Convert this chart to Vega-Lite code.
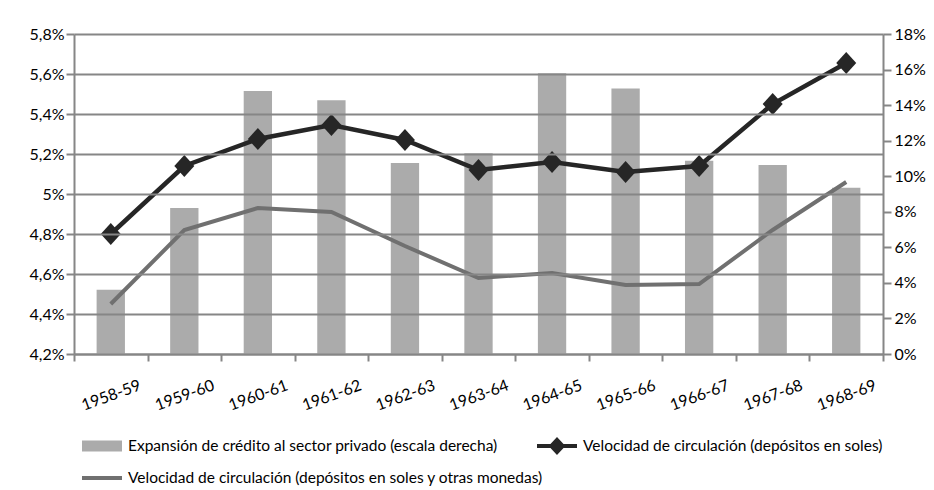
{
  "$schema": "https://vega.github.io/schema/vega-lite/v6.json",
  "width": 809,
  "height": 320,
  "padding": {"left": 28, "top": 26, "right": 5, "bottom": 5},
  "background": "white",
  "config": {
    "font": "Lato",
    "view": {"stroke": null},
    "axis": {
      "labelFont": "Lato",
      "labelFontSize": 16,
      "labelColor": "#000000",
      "domainColor": "#868686",
      "domainWidth": 2,
      "tickColor": "#868686",
      "tickWidth": 2,
      "gridColor": "#868686",
      "gridWidth": 2,
      "gridOpacity": 1,
      "title": null
    }
  },
  "data": {
    "values": [
      {"periodo": "1958-59", "credito": 3.62, "vs": 4.80, "vt": 4.45},
      {"periodo": "1959-60", "credito": 8.21, "vs": 5.14, "vt": 4.82},
      {"periodo": "1960-61", "credito": 14.79, "vs": 5.275, "vt": 4.93},
      {"periodo": "1961-62", "credito": 14.27, "vs": 5.345, "vt": 4.91},
      {"periodo": "1962-63", "credito": 10.74, "vs": 5.27, "vt": 4.74},
      {"periodo": "1963-64", "credito": 11.29, "vs": 5.12, "vt": 4.58},
      {"periodo": "1964-65", "credito": 15.79, "vs": 5.16, "vt": 4.605},
      {"periodo": "1965-66", "credito": 14.94, "vs": 5.11, "vt": 4.545},
      {"periodo": "1966-67", "credito": 10.87, "vs": 5.14, "vt": 4.55},
      {"periodo": "1967-68", "credito": 10.63, "vs": 5.45, "vt": 4.82},
      {"periodo": "1968-69", "credito": 9.35, "vs": 5.655, "vt": 5.06}
    ]
  },
  "encoding": {
    "x": {
      "field": "periodo",
      "type": "ordinal",
      "sort": null,
      "scale": {"paddingInner": 0, "paddingOuter": 0},
      "axis": {
        "labelAngle": -20,
        "labelAlign": "center",
        "labelBaseline": "middle",
        "labelPadding": 34,
        "tickSize": 7,
        "tickBand": "extent",
        "grid": false
      }
    }
  },
  "layer": [
    {
      "mark": {"type": "bar", "width": {"band": 0.385}},
      "encoding": {
        "y": {
          "field": "credito",
          "type": "quantitative",
          "scale": {"domain": [0, 18], "nice": false},
          "axis": {
            "orient": "right",
            "values": [0, 2, 4, 6, 8, 10, 12, 14, 16, 18],
            "labelExpr": "format(datum.value, 'd') + '%'",
            "grid": false,
            "tickSize": 8,
            "labelPadding": 3
          }
        },
        "color": {
          "datum": "Expansión de crédito al sector privado (escala derecha)",
          "scale": {
            "domain": [
              "Expansión de crédito al sector privado (escala derecha)",
              "Velocidad de circulación (depósitos en soles)",
              "Velocidad de circulación (depósitos en soles y otras monedas)"
            ],
            "range": ["#ababab", "#262626", "#707070"]
          },
          "legend": {
            "title": null,
            "orient": "bottom",
            "direction": "horizontal",
            "columns": 2,
            "gridAlign": "none",
            "columnPadding": -6,
            "rowPadding": 13,
            "padding": 18,
            "labelFont": "Lato",
            "labelFontSize": 15.5,
            "labelColor": "#000000",
            "labelOffset": 16,
            "labelLimit": 700,
            "symbolSize": 400,
            "symbolStrokeWidth": 0,
            "offset": 4,
            "encode": {
              "symbols": {
                "update": {
                  "shape": {"signal": "datum.value === 'Expansión de crédito al sector privado (escala derecha)' ? 'M-2,-0.55H2V0.55H-2Z' : (datum.value === 'Velocidad de circulación (depósitos en soles)' ? 'M-2,-0.2H2V0.2H-2ZM0,-0.9L0.84,0L0,0.9L-0.84,0Z' : 'M-2,-0.2H2V0.2H-2Z')"},
                  "fill": {"signal": "datum.value === 'Expansión de crédito al sector privado (escala derecha)' ? '#ababab' : (datum.value === 'Velocidad de circulación (depósitos en soles)' ? '#262626' : '#707070')"},
                  "stroke": {"value": "transparent"},
                  "opacity": {"value": 1},
                  "fillOpacity": {"value": 1}
                }
              }
            }
          }
        }
      }
    },
    {
      "layer": [
        {
          "mark": {"type": "line", "strokeWidth": 4},
          "encoding": {
            "y": {
              "field": "vt",
              "type": "quantitative",
              "scale": {"domain": [4.2, 5.8], "nice": false},
              "axis": {
                "orient": "left",
                "values": [4.2, 4.4, 4.6, 4.8, 5.0, 5.2, 5.4, 5.6, 5.8],
                "labelExpr": "replace(format(datum.value, '.1~f'), '.', ',') + '%'",
                "grid": true,
                "zindex": 1,
                "tickSize": 8,
                "labelPadding": 2
              }
            },
            "color": {"datum": "Velocidad de circulación (depósitos en soles y otras monedas)"}
          }
        },
        {
          "mark": {"type": "line", "strokeWidth": 4.5},
          "encoding": {
            "y": {
              "field": "vs",
              "type": "quantitative",
              "scale": {"domain": [4.2, 5.8], "nice": false},
              "axis": {
                "orient": "left",
                "values": [4.2, 4.4, 4.6, 4.8, 5.0, 5.2, 5.4, 5.6, 5.8],
                "labelExpr": "replace(format(datum.value, '.1~f'), '.', ',') + '%'",
                "grid": true,
                "zindex": 1,
                "tickSize": 8,
                "labelPadding": 2
              }
            },
            "color": {"datum": "Velocidad de circulación (depósitos en soles)"}
          }
        },
        {
          "mark": {"type": "point", "shape": "M0,-1.1L1,0L0,1.1L-1,0Z", "size": 400, "filled": true, "opacity": 1},
          "encoding": {
            "y": {
              "field": "vs",
              "type": "quantitative",
              "scale": {"domain": [4.2, 5.8], "nice": false},
              "axis": {
                "orient": "left",
                "values": [4.2, 4.4, 4.6, 4.8, 5.0, 5.2, 5.4, 5.6, 5.8],
                "labelExpr": "replace(format(datum.value, '.1~f'), '.', ',') + '%'",
                "grid": true,
                "zindex": 1,
                "tickSize": 8,
                "labelPadding": 2
              }
            },
            "color": {"datum": "Velocidad de circulación (depósitos en soles)"}
          }
        }
      ]
    }
  ],
  "resolve": {"scale": {"y": "independent"}}
}
